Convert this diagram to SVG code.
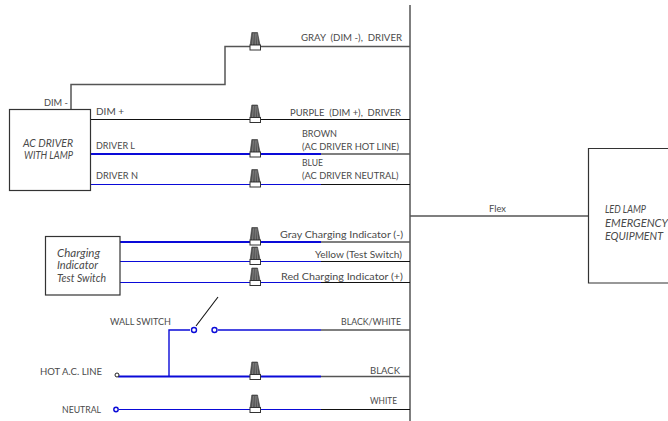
<svg xmlns="http://www.w3.org/2000/svg" width="668" height="421" viewBox="0 0 668 421">
<style>
text{font-family:Lato,"Liberation Sans",Arial,sans-serif;font-size:10px;fill:#4a4a4a}
.i{font-style:italic;font-size:10.500px}
.w{fill:none;stroke-linecap:butt}
.k{stroke:#111;stroke-width:1.100}
.g{stroke:#555;stroke-width:1.500}
.b{stroke:#0a0ad8;stroke-width:1.200}
.bb{stroke:#0a0ad8;stroke-width:2}
.box{fill:#fff;stroke:#333;stroke-width:1.200}
.t{fill:#fff;stroke:#0a0ad8;stroke-width:1.400}
</style>
<defs>
<g id="nut">
<path d="M-3.200 -14.500H2.500L5 -2H-4.800Z" fill="#555" stroke="#333" stroke-width=".6"/>
<path d="M-1.500 -13.500L-2.500 -2M.3 -13.500V-2M1.700 -13.500L2.800 -2" stroke="#999" stroke-width=".6" fill="none"/>
<rect x="-5" y="-2" width="10.500" height="5" fill="#fff" stroke="#333" stroke-width="1"/>
</g>
</defs>
<g id="connectors">
<path class="w g" d="M410 5V421"/>
<path class="w g" d="M71 109V84.500H225V46.500H410"/>
<path class="w k" d="M90 119.500H410"/>
<path class="w bb" d="M90 154H321"/><path class="w g" d="M321 154H410"/>
<path class="w b" d="M90 184.500H321"/><path class="w k" d="M321 184.500H410"/>
<path class="w g" d="M410 216H588"/>
<path class="w bb" d="M120 242H321"/><path class="w g" d="M321 242H410"/>
<path class="w b" d="M120 261.500H321"/><path class="w k" d="M321 261.500H410"/>
<path class="w b" d="M120 282.500H321"/><path class="w k" d="M321 282.500H410"/>
<path class="w bb" d="M169 376V330H190" style="stroke-width:1.400"/>
<path class="w k" d="M196 326L218 297"/>
<path class="w bb" d="M218 330H321" style="stroke-width:1.500"/><path class="w g" d="M321 330H410"/>
<path class="w bb" d="M118 376.500H321"/><path class="w g" d="M321 376.500H410"/>
<path class="w b" d="M119 409.500H321"/><path class="w k" d="M321 409.500H410"/>
</g>
<g id="driver"><rect class="box" x="9.500" y="109.500" width="81" height="81"/>
<text class="i" x="23" y="147" textLength="50" lengthAdjust="spacingAndGlyphs">AC DRIVER</text>
<text class="i" x="24" y="159" textLength="49" lengthAdjust="spacingAndGlyphs">WITH LAMP</text></g>
<g id="charging"><rect class="box" x="45.500" y="236.500" width="74.500" height="58.500"/>
<text class="i" x="57" y="257" textLength="43" lengthAdjust="spacingAndGlyphs">Charging</text>
<text class="i" x="57" y="269" textLength="41" lengthAdjust="spacingAndGlyphs">Indicator</text>
<text class="i" x="57" y="282" textLength="49" lengthAdjust="spacingAndGlyphs">Test Switch</text></g>
<g id="emergency"><path class="box" d="M670 148.500H588.500V283H670"/>
<text class="i" x="605" y="213" textLength="41" lengthAdjust="spacingAndGlyphs">LED LAMP</text>
<text class="i" x="605" y="226.500" textLength="63" lengthAdjust="spacingAndGlyphs">EMERGENCY</text>
<text class="i" x="605" y="240" textLength="58" lengthAdjust="spacingAndGlyphs">EQUIPMENT</text></g>
<g id="wire-nuts">
<use href="#nut" x="255" y="47"/><use href="#nut" x="255" y="119.500"/><use href="#nut" x="255" y="154"/><use href="#nut" x="255" y="184"/>
<use href="#nut" x="255" y="242"/><use href="#nut" x="255" y="261.500"/><use href="#nut" x="255" y="282.500"/><use href="#nut" x="255" y="376.500"/><use href="#nut" x="255" y="409.500"/>
</g>
<g id="terminals">
<circle class="t" cx="194" cy="330" r="2.500"/><circle class="t" cx="214.500" cy="330" r="2.500"/>
<circle cx="117" cy="375" r="2" fill="#fff" stroke="#222" stroke-width="1"/>
<circle class="t" cx="116" cy="409.500" r="2.200"/>
</g>
<g id="labels">
<text x="44" y="106" textLength="24" lengthAdjust="spacingAndGlyphs">DIM -</text>
<text x="96" y="115" textLength="28" lengthAdjust="spacingAndGlyphs">DIM +</text>
<text x="96" y="149" textLength="39" lengthAdjust="spacingAndGlyphs">DRIVER L</text>
<text x="96" y="179" textLength="42" lengthAdjust="spacingAndGlyphs">DRIVER N</text>
<text x="301" y="41" textLength="101" lengthAdjust="spacingAndGlyphs" xml:space="preserve">GRAY  (DIM -),  DRIVER</text>
<text x="290" y="115.500" textLength="111" lengthAdjust="spacingAndGlyphs" xml:space="preserve">PURPLE  (DIM +),  DRIVER</text>
<text x="302" y="137" textLength="35" lengthAdjust="spacingAndGlyphs">BROWN</text>
<text x="302" y="149.500" textLength="97" lengthAdjust="spacingAndGlyphs">(AC DRIVER HOT LINE)</text>
<text x="302" y="166" textLength="21" lengthAdjust="spacingAndGlyphs">BLUE</text>
<text x="302" y="179" textLength="96.500" lengthAdjust="spacingAndGlyphs">(AC DRIVER NEUTRAL)</text>
<text x="280" y="238" textLength="123" lengthAdjust="spacingAndGlyphs">Gray Charging Indicator (-)</text>
<text x="315" y="258" textLength="87" lengthAdjust="spacingAndGlyphs">Yellow (Test Switch)</text>
<text x="281" y="279.500" textLength="122" lengthAdjust="spacingAndGlyphs">Red Charging Indicator (+)</text>
<text x="110" y="324.500" textLength="61" lengthAdjust="spacingAndGlyphs">WALL SWITCH</text>
<text x="341" y="325" textLength="60" lengthAdjust="spacingAndGlyphs">BLACK/WHITE</text>
<text x="40" y="375" textLength="62" lengthAdjust="spacingAndGlyphs">HOT A.C. LINE</text>
<text x="370" y="374" textLength="30" lengthAdjust="spacingAndGlyphs">BLACK</text>
<text x="62" y="412.500" textLength="39" lengthAdjust="spacingAndGlyphs">NEUTRAL</text>
<text x="370" y="404" textLength="27" lengthAdjust="spacingAndGlyphs">WHITE</text>
<text x="489" y="212" textLength="17" lengthAdjust="spacingAndGlyphs">Flex</text>
</g>
</svg>
